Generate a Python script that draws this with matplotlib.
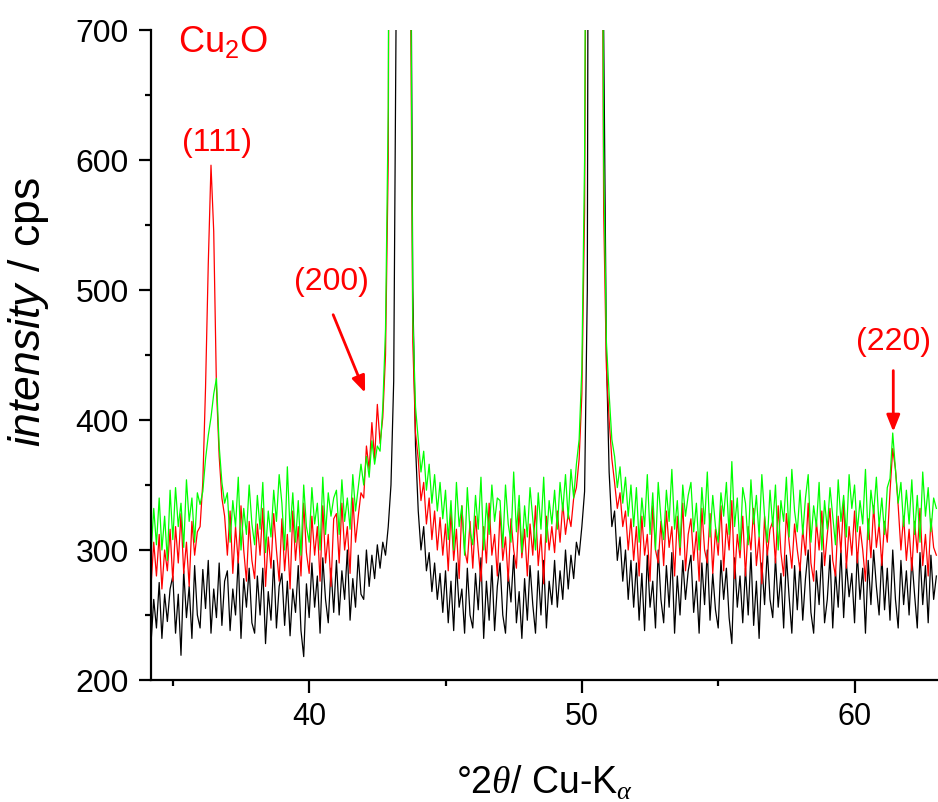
import numpy as np
import matplotlib
matplotlib.use("Agg")
import matplotlib.pyplot as plt

plt.rcParams["font.family"] = ["Liberation Sans", "DejaVu Sans"]
plt.rcParams["mathtext.fontset"] = "custom"
plt.rcParams["mathtext.rm"] = "Liberation Sans"
plt.rcParams["mathtext.it"] = "Liberation Sans:italic"
plt.rcParams["mathtext.bf"] = "Liberation Serif:italic"  # serif italic greek in x label

# 2theta grid, 0.1 deg steps from 34.2 to 63.0
two_theta = np.arange(342, 631) / 10

# intensities (cps), one row per degree
black = [
    228, 262, 240, 275, 232, 266, 245, 270,
    280, 236, 266, 219, 284, 248, 272, 232, 288, 250,
    240, 285, 255, 292, 236, 270, 248, 290, 242, 276,
    284, 238, 270, 250, 294, 232, 278, 256, 286, 244,
    236, 280, 250, 286, 228, 268, 246, 292, 240, 272,
    282, 242, 276, 234, 270, 252, 288, 238, 218, 274,
    248, 290, 256, 280, 236, 294, 262, 244, 286, 252,
    292, 250, 284, 262, 300, 246, 278, 256, 296, 266,
    262, 300, 272, 296, 278, 304, 286, 306, 296, 318,
    350, 430, 750, 3000, 3000, 3000, 2000, 900, 500, 380,
    330, 300, 318, 284, 298, 268, 290, 262, 282, 252,
    284, 244, 276, 238, 290, 256, 270, 236, 286, 250,
    240, 282, 254, 294, 232, 276, 246, 288, 238, 272,
    290, 250, 236, 282, 260, 296, 244, 268, 232, 278,
    246, 288, 258, 236, 284, 250, 292, 240, 276, 258,
    292, 256, 284, 262, 300, 270, 296, 278, 306, 296,
    318, 345, 500, 1500, 3000, 3000, 3000, 1500, 700, 450,
    360, 318, 330, 292, 310, 276, 300, 262, 292, 256,
    290, 246, 282, 238, 296, 256, 276, 240, 300, 262,
    244, 288, 256, 298, 236, 280, 250, 292, 262, 284,
    296, 252, 276, 236, 290, 258, 300, 246, 282, 254,
    240, 292, 262, 286, 248, 228, 294, 256, 280, 244,
    286, 250, 298, 242, 276, 232, 290, 258, 300, 262,
    248, 294, 256, 282, 240, 296, 264, 236, 288, 254,
    290, 246, 278, 300, 252, 236, 284, 258, 298, 244,
    262, 296, 240, 284, 256, 300, 248, 290, 264, 282,
    244, 298, 262, 286, 236, 292, 258, 300, 272, 250,
    296, 254, 286, 246, 300, 262, 240, 292, 258, 284,
    250, 294, 266, 240, 298, 258, 288, 244, 296, 262,
    280,
]

red = [
    272, 306, 280, 312, 270, 300, 284, 316,
    276, 318, 290, 328, 282, 306, 272, 322, 296, 314,
    318, 352, 425, 520, 596, 545, 425, 372, 340, 326,
    296, 330, 282, 318, 290, 334, 300, 276, 322, 292,
    278, 320, 296, 332, 272, 310, 286, 328, 300, 276,
    324, 284, 312, 270, 330, 292, 318, 280, 336, 298,
    282, 326, 296, 318, 276, 334, 290, 312, 272, 324,
    328, 290, 336, 300, 318, 282, 340, 306, 326, 344,
    340, 380, 362, 398, 370, 412, 382, 402, 450, 600,
    1300, 3000, 3000, 3000, 3000, 3000, 1500, 800, 460, 390,
    370, 338, 352, 320, 340, 308, 330, 300, 325, 296,
    320, 284, 330, 292, 316, 278, 334, 300, 290, 322,
    286, 326, 300, 276, 318, 290, 336, 296, 312, 280,
    330, 292, 310, 276, 324, 300, 286, 332, 294, 316,
    280, 320, 296, 334, 288, 312, 274, 326, 300, 318,
    298, 330, 306, 336, 312, 328, 318, 340, 348, 370,
    420, 560, 1000, 3000, 3000, 3000, 2000, 1000, 560, 440,
    400, 370, 352, 332, 344, 318, 330, 300, 324, 292,
    318, 280, 326, 296, 312, 276, 334, 300, 290, 322,
    288, 330, 302, 318, 280, 326, 296, 336, 284, 312,
    324, 292, 314, 276, 332, 300, 290, 328, 282, 316,
    296, 334, 284, 320, 300, 338, 278, 312, 294, 326,
    280, 318, 300, 332, 288, 310, 274, 326, 296, 316,
    322, 290, 334, 298, 280, 328, 306, 286, 320, 300,
    284, 316, 296, 336, 290, 276, 322, 300, 330, 288,
    312, 332, 292, 280, 326, 298, 338, 286, 318, 296,
    330, 290, 318, 300, 276, 324, 294, 334, 302, 320,
    288, 322, 306, 345, 378, 362, 334, 300, 326, 292,
    316, 284, 322, 298, 332, 288, 312, 280, 324, 302,
    296,
]

green = [
    296, 332, 304, 340, 300, 326, 292, 346,
    308, 348, 318, 336, 302, 354, 322, 340, 306, 344,
    335, 345, 370, 388, 402, 420, 432, 380, 352, 336,
    344, 306, 338, 318, 356, 300, 332, 312, 350, 320,
    304, 342, 316, 352, 298, 330, 310, 346, 322, 358,
    336, 300, 364, 314, 344, 306, 338, 296, 350, 318,
    306, 348, 320, 336, 300, 356, 312, 344, 326, 340,
    346, 312, 354, 322, 340, 316, 358, 330, 348, 366,
    350, 372, 356, 384, 366, 380, 376, 410, 470, 640,
    1400, 3000, 3000, 3000, 3000, 3000, 1700, 850, 480, 410,
    385, 360, 376, 346, 366, 336, 358, 330, 352, 324,
    346, 308, 338, 300, 352, 318, 334, 296, 348, 314,
    304, 342, 316, 356, 300, 336, 312, 350, 322, 340,
    338, 302, 350, 320, 306, 360, 314, 342, 298, 334,
    310, 348, 324, 300, 344, 316, 356, 306, 338, 320,
    346, 316, 352, 330, 358, 324, 362, 340, 366, 385,
    440, 600, 1100, 3000, 3000, 3000, 2200, 1100, 600, 460,
    420, 385, 372, 348, 364, 336, 356, 326, 350, 318,
    348, 306, 340, 318, 358, 312, 344, 300, 352, 324,
    308, 346, 322, 362, 316, 338, 302, 350, 326, 342,
    352, 314, 336, 300, 348, 320, 360, 310, 342, 318,
    306, 344, 326, 352, 312, 368, 318, 340, 300, 348,
    336, 304, 354, 320, 342, 310, 358, 326, 306, 346,
    318, 350, 300, 338, 322, 356, 310, 362, 330, 314,
    346, 312, 340, 358, 306, 334, 318, 352, 300, 338,
    316, 348, 326, 304, 354, 322, 342, 310, 358, 332,
    350, 314, 338, 320, 362, 308, 346, 328, 356, 318,
    340, 312, 348, 355, 390, 362, 336, 352, 318, 346,
    320, 354, 312, 342, 306, 360, 326, 348, 314, 340,
    332,
]

# Cu2O reflections: label, label position, arrow tail, arrow tip
peaks = [
    ("(111)", (36.63, 613), None, None),
    ("(200)", (40.81, 506), (40.88, 481), (42.05, 421)),
    ("(220)", (61.43, 460), (61.42, 438), (61.42, 391)),
]

fig = plt.figure(figsize=(9.38, 8.02), dpi=100)
ax = fig.add_axes([151 / 938, 122 / 802, 787 / 938, 650 / 802])

ax.plot(two_theta, black, color="black", lw=0.9)
ax.plot(two_theta, red, color="#ff0000", lw=0.9)
ax.plot(two_theta, green, color="#00ff00", lw=0.9)

ax.set_xlim(34.2, 63.06)
ax.set_ylim(200, 700)
ax.set_xticks([40, 50, 60])
ax.set_xticks([35, 45, 55], minor=True)
ax.set_yticks([200, 300, 400, 500, 600, 700])
ax.set_yticks([250, 350, 450, 550, 650], minor=True)

for side in ("top", "right"):
    ax.spines[side].set_visible(False)
for side in ("left", "bottom"):
    ax.spines[side].set_linewidth(1.6)
ax.tick_params(which="major", direction="out", length=9, width=1.6)
ax.tick_params(which="minor", direction="out", length=4.5, width=1.6)
ax.tick_params(axis="y", labelsize=23, pad=7)
ax.tick_params(axis="x", labelsize=22, pad=7)

ax.set_ylabel(r"$\mathit{intensity}$ / cps", fontsize=32)
ax.yaxis.set_label_coords(-0.127, 0.566)
ax.set_xlabel(r"°2$\mathbf{\theta}$/ Cu-K$_\mathbf{\alpha}$", fontsize=27, labelpad=23)

ax.text(35.2, 683, r"Cu$_2$O", color="#ff0000", fontsize=26,
        ha="left", va="baseline")
for label, pos, tail, tip in peaks:
    ax.text(pos[0], pos[1], label, color="#ff0000", fontsize=23,
            ha="center", va="center")
    if tail is not None:
        ax.annotate("", xy=tip, xytext=tail,
                    arrowprops=dict(arrowstyle="-|>,head_length=0.5,head_width=0.2",
                                    color="#ff0000", lw=2, mutation_scale=20,
                                    shrinkA=0, shrinkB=0))

fig.savefig("out.png", dpi=100)
